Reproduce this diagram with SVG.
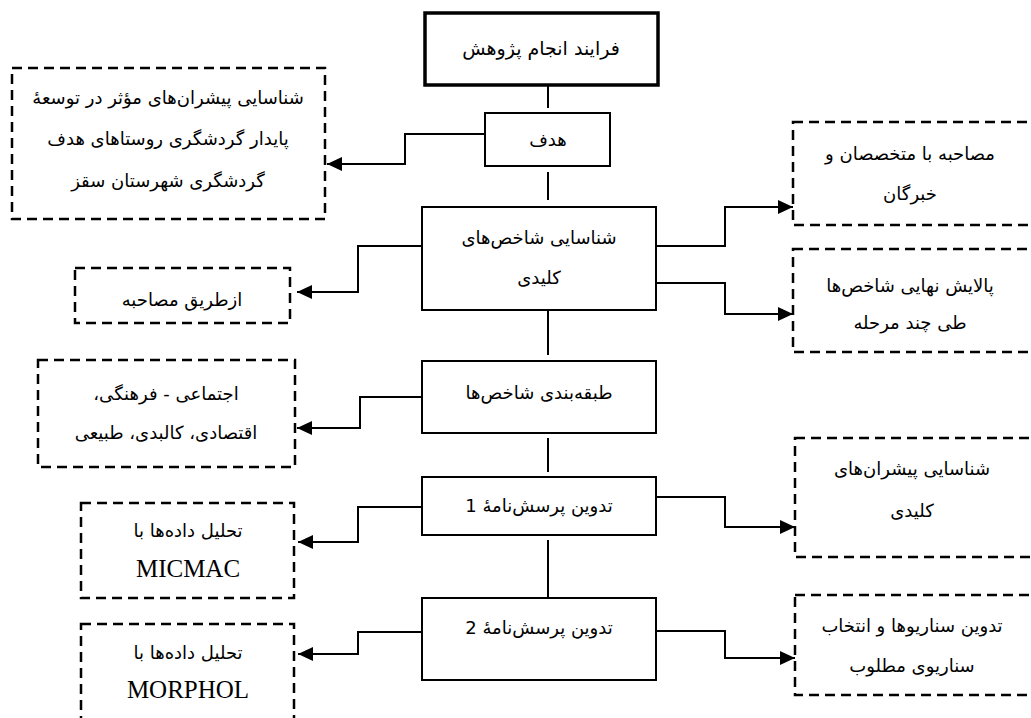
<svg xmlns="http://www.w3.org/2000/svg" width="1031" height="718" viewBox="0 0 1031 718">
<style>
.box{fill:#fff;stroke:#000;stroke-width:2}
.main{fill:#fff;stroke:#000;stroke-width:3.5}
.dash{fill:#fff;stroke:#000;stroke-width:2.5;stroke-dasharray:10 6}
.t{font-family:"DejaVu Sans",sans-serif;font-size:18px;fill:#000;text-anchor:middle;direction:rtl}
.l{font-family:"Liberation Serif",serif;font-size:25px;fill:#000;text-anchor:middle}
.c{fill:none;stroke:#000;stroke-width:2}
</style>
<defs>
<marker id="ah" markerUnits="userSpaceOnUse" markerWidth="16" markerHeight="14" refX="15" refY="7" orient="auto">
<path d="M0,0 L15,7 L0,14 Z" fill="#000"/>
</marker>
</defs>
<rect width="1031" height="718" fill="#fff"/>
<g id="connectors">
<line class="c" x1="548" y1="85" x2="548" y2="108"/>
<line class="c" x1="548" y1="172" x2="548" y2="200"/>
<line class="c" x1="548" y1="310" x2="548" y2="355"/>
<line class="c" x1="548" y1="438" x2="548" y2="472"/>
<line class="c" x1="548" y1="540" x2="548" y2="598"/>
<polyline class="c" points="485,134 405,134 405,164 327,164" marker-end="url(#ah)"/>
<polyline class="c" points="656,246 725,246 725,207 793,207" marker-end="url(#ah)"/>
<polyline class="c" points="656,283 725,283 725,314 793,314" marker-end="url(#ah)"/>
<polyline class="c" points="422,246 358,246 358,292 297,292" marker-end="url(#ah)"/>
<polyline class="c" points="422,397 360,397 360,428 297,428" marker-end="url(#ah)"/>
<polyline class="c" points="656,497 725,497 725,527 795,527" marker-end="url(#ah)"/>
<polyline class="c" points="422,507 358,507 358,542 298,542" marker-end="url(#ah)"/>
<polyline class="c" points="656,631 725,631 725,658 795,658" marker-end="url(#ah)"/>
<polyline class="c" points="422,632 358,632 358,654 298,654" marker-end="url(#ah)"/>
</g>
<g id="n_process">
<rect class="main" x="425" y="13" width="233" height="72"/>
<text class="t" x="541" y="55" style="font-size:19px">فرایند انجام پژوهش</text>
</g>
<g id="n_goal">
<rect class="box" x="485" y="113" width="125" height="53"/>
<text class="t" x="548" y="146">هدف</text>
</g>
<g id="n_goal_desc">
<rect class="dash" x="12" y="68" width="313" height="151"/>
<text class="t" x="168" y="104">شناسایی پیشران‌های مؤثر در توسعهٔ</text>
<text class="t" x="168" y="145">پایدار گردشگری روستاهای هدف</text>
<text class="t" x="168" y="187">گردشگری شهرستان سقز</text>
</g>
<g id="n_key">
<rect class="box" x="422" y="207" width="234" height="103"/>
<text class="t" x="539" y="244">شناسایی شاخص‌های</text>
<text class="t" x="539" y="284">کلیدی</text>
</g>
<g id="n_interview">
<rect class="dash" x="75" y="268" width="215" height="55"/>
<text class="t" x="182" y="306">ازطریق مصاحبه</text>
</g>
<g id="n_experts">
<rect class="dash" x="793" y="122" width="250" height="103"/>
<text class="t" x="910" y="160">مصاحبه با متخصصان و</text>
<text class="t" x="910" y="200">خبرگان</text>
</g>
<g id="n_refine">
<rect class="dash" x="793" y="249" width="250" height="103"/>
<text class="t" x="910" y="292">پالایش نهایی شاخص‌ها</text>
<text class="t" x="910" y="329">طی چند مرحله</text>
</g>
<g id="n_classify">
<rect class="box" x="422" y="361" width="234" height="72"/>
<text class="t" x="539" y="399">طبقه‌بندی شاخص‌ها</text>
</g>
<g id="n_classes">
<rect class="dash" x="38" y="360" width="257" height="107"/>
<text class="t" x="166" y="400">اجتماعی - فرهنگی،</text>
<text class="t" x="166" y="439">اقتصادی، کالبدی، طبیعی</text>
</g>
<g id="n_q1">
<rect class="box" x="422" y="477" width="234" height="58"/>
<text class="t" x="539" y="512">تدوین پرسش‌نامهٔ 1</text>
</g>
<g id="n_drivers">
<rect class="dash" x="795" y="438" width="250" height="119"/>
<text class="t" x="912" y="475">شناسایی پیشران‌های</text>
<text class="t" x="912" y="517">کلیدی</text>
</g>
<g id="n_micmac">
<rect class="dash" x="81" y="503" width="213" height="95"/>
<text class="t" x="188" y="537">تحلیل داده‌ها با</text>
<text class="l" x="188" y="577">MICMAC</text>
</g>
<g id="n_q2">
<rect class="box" x="422" y="598" width="234" height="82"/>
<text class="t" x="539" y="634">تدوین پرسش‌نامهٔ 2</text>
</g>
<g id="n_morphol">
<rect class="dash" x="81" y="624" width="213" height="110"/>
<text class="t" x="188" y="659">تحلیل داده‌ها با</text>
<text class="l" x="188" y="698">MORPHOL</text>
</g>
<g id="n_scenario">
<rect class="dash" x="795" y="595" width="250" height="100"/>
<text class="t" x="912" y="632">تدوین سناریوها و انتخاب</text>
<text class="t" x="912" y="672">سناریوی مطلوب</text>
</g>
</svg>
